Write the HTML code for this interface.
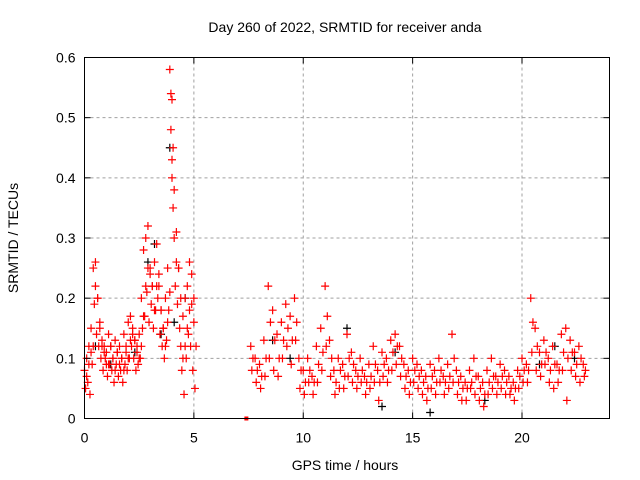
<!DOCTYPE html>
<html><head><meta charset="utf-8"><style>
body{margin:0;background:#fff;}
svg{display:block;font-family:"Liberation Sans",sans-serif;}
</style></head><body>
<svg id="chart" width="640" height="480" viewBox="0 0 640 480">
<rect width="640" height="480" fill="#fff"/>
<g id="grid"></g>
<g id="marks"></g>
<rect x="84.5" y="57.5" width="525" height="361" fill="none" stroke="#000" stroke-width="1"/>
<g id="ticks"></g>
<text x="345" y="32" text-anchor="middle" font-size="14">Day 260 of 2022, SRMTID for receiver anda</text>
<text x="345" y="470" text-anchor="middle" font-size="14">GPS time / hours</text>
<text x="18" y="238" text-anchor="middle" font-size="14" transform="rotate(-90 18 238)">SRMTID / TECUs</text>
</svg>
<script>
const xTicks=[0,5,10,15,20];
const yTicks=[0,0.1,0.2,0.3,0.4,0.5,0.6];
const yTickLabels=["0","0.1","0.2","0.3","0.4","0.5","0.6"];
const times=[0,0.1,0.2,0.3,0.4,0.5,0.6,0.7,0.8,0.9,1.0,1.1,1.2,1.3,1.4,1.5,1.6,1.7,1.8,1.9,2.0,2.1,2.2,2.3,2.4,2.5,2.6,2.7,2.8,2.9,3.0,3.1,3.2,3.3,3.4,3.5,3.6,3.7,3.8,3.9,3.95,4.0,4.1,4.2,4.3,4.4,4.5,4.6,4.7,4.8,4.9,5.0,
7.6,7.8,8.0,8.2,8.4,8.6,8.8,9.0,9.2,9.4,9.6,9.8,10.0,10.2,10.4,10.6,10.8,11.0,11.2,11.4,11.6,11.8,12.0,12.2,12.4,12.6,12.8,13.0,13.2,13.4,13.6,13.8,14.0,14.2,14.4,14.6,14.8,15.0,15.2,15.4,15.6,15.8,16.0,16.2,16.4,16.6,16.8,17.0,17.2,17.4,17.6,17.8,18.0,18.2,18.4,18.6,18.8,19.0,19.2,19.4,19.6,19.8,20.0,20.2,20.4,20.6,20.8,21.0,21.2,21.4,21.6,21.8,22.0,22.2,22.4,22.6,22.8];
const seriesHigh=[0.08,0.10,0.12,0.15,0.25,0.26,0.20,0.15,0.13,0.12,0.11,0.14,0.12,0.10,0.13,0.11,0.12,0.10,0.14,0.12,0.16,0.17,0.15,0.13,0.12,0.14,0.20,0.28,0.30,0.32,0.25,0.22,0.26,0.29,0.22,0.18,0.15,0.20,0.25,0.58,0.54,0.40,0.30,0.31,0.25,0.12,0.17,0.20,0.22,0.26,0.24,0.20,
0.12,0.10,0.09,0.13,0.22,0.18,0.14,0.16,0.19,0.17,0.20,0.10,0.08,0.10,0.07,0.12,0.15,0.22,0.13,0.08,0.10,0.09,0.14,0.11,0.08,0.10,0.07,0.09,0.12,0.08,0.11,0.10,0.13,0.14,0.12,0.09,0.08,0.10,0.09,0.08,0.07,0.09,0.08,0.10,0.07,0.09,0.14,0.08,0.07,0.06,0.08,0.10,0.07,0.06,0.08,0.10,0.07,0.09,0.08,0.07,0.06,0.08,0.10,0.09,0.20,0.15,0.11,0.13,0.10,0.12,0.09,0.14,0.15,0.13,0.11,0.12,0.09];
const seriesMid=[0.07,0.09,0.11,0.12,0.22,0.20,0.16,0.12,0.11,0.09,0.09,0.12,0.10,0.08,0.11,0.09,0.10,0.08,0.11,0.10,0.13,0.14,0.13,0.11,0.10,0.12,0.17,0.22,0.25,0.24,0.22,0.18,0.22,0.24,0.18,0.15,0.12,0.16,0.21,0.53,0.45,0.38,0.26,0.25,0.20,0.10,0.12,0.15,0.18,0.19,0.16,0.12,
0.10,0.08,0.07,0.10,0.16,0.13,0.10,0.13,0.15,0.13,0.16,0.08,0.06,0.08,0.06,0.09,0.11,0.17,0.10,0.06,0.08,0.07,0.10,0.09,0.07,0.08,0.06,0.07,0.09,0.06,0.09,0.08,0.11,0.12,0.10,0.07,0.06,0.08,0.07,0.06,0.05,0.07,0.06,0.08,0.06,0.07,0.10,0.06,0.05,0.05,0.06,0.07,0.05,0.04,0.06,0.07,0.06,0.07,0.06,0.05,0.05,0.07,0.08,0.08,0.16,0.12,0.09,0.11,0.08,0.09,0.08,0.11,0.10,0.11,0.09,0.10,0.08];
const seriesLow=[0.05,0.06,0.04,0.09,0.19,0.14,0.12,0.10,0.08,0.10,0.07,0.09,0.08,0.06,0.09,0.07,0.08,0.06,0.09,0.08,0.10,0.12,0.10,0.08,0.09,0.10,0.15,0.17,0.21,0.16,0.19,0.15,0.18,0.20,0.14,0.12,0.10,0.13,0.18,0.48,0.43,0.35,0.22,0.19,0.15,0.08,0.04,0.10,0.14,0.12,0.08,0.05,
0.08,0.06,0.05,0.07,0.10,0.08,0.07,0.10,0.12,0.09,0.13,0.05,0.04,0.06,0.04,0.06,0.08,0.12,0.07,0.04,0.05,0.05,0.07,0.06,0.05,0.06,0.04,0.05,0.06,0.03,0.07,0.06,0.08,0.09,0.07,0.05,0.04,0.06,0.05,0.04,0.03,0.05,0.04,0.06,0.04,0.05,0.06,0.04,0.03,0.03,0.05,0.04,0.03,0.02,0.04,0.05,0.04,0.05,0.04,0.04,0.03,0.05,0.06,0.06,0.11,0.08,0.07,0.09,0.06,0.05,0.06,0.08,0.03,0.08,0.07,0.06,0.07];
const zeroTimes=[7.4];
const zeroValues=[0];
const blackTimes=[0.5,1.2,2.3,2.9,3.2,3.5,3.9,4.1,4.6,8.6,9.4,12.0,13.6,14.2,15.8,18.3,20.8,21.5,22.4];
const blackValues=[0.12,0.09,0.11,0.26,0.29,0.14,0.45,0.16,0.20,0.13,0.10,0.15,0.02,0.11,0.01,0.03,0.09,0.12,0.10];
const X0=84.5,X1=609.5,Y0=418.5,Y1=57.5;
const xS=t=>X0+(t/24)*(X1-X0);
const yS=v=>Y0-(v/0.6)*(Y0-Y1);
const NS='http://www.w3.org/2000/svg';
const grid=document.getElementById('grid'),ticks=document.getElementById('ticks'),marks=document.getElementById('marks');
function mk(tag,attrs,parent){const e=document.createElementNS(NS,tag);for(const k in attrs)e.setAttribute(k,attrs[k]);parent.appendChild(e);return e;}
xTicks.forEach(t=>{const x=xS(t);
 if(t>0){const g=mk('line',{x1:x,x2:x,y1:Y0,y2:Y1,stroke:'#a0a0a0','stroke-dasharray':'3,3'},grid);
 
 }
 mk('line',{x1:x,x2:x,y1:Y0,y2:Y0-6,stroke:'#000'},ticks);mk('line',{x1:x,x2:x,y1:Y1,y2:Y1+6,stroke:'#000'},ticks);
 const l=mk('text',{x:x,y:Y0+24,'text-anchor':'middle','font-size':14},ticks);l.textContent=t;
 
 });
yTicks.forEach((v,i)=>{const y=yS(v);
 if(v>0&&v<0.6){const g=mk('line',{x1:X0,x2:X1,y1:y,y2:y,stroke:'#a0a0a0','stroke-dasharray':'3,3'},grid);
 
 }
 mk('line',{x1:X0,x2:X0+6,y1:y,y2:y,stroke:'#000'},ticks);mk('line',{x1:X1,x2:X1-6,y1:y,y2:y,stroke:'#000'},ticks);
 const l=mk('text',{x:X0-9,y:y+5,'text-anchor':'end','font-size':14},ticks);l.textContent=yTickLabels[i];
 
 });
function plus(t,v,color,name){if(v===undefined)return;const x=xS(t),y=yS(v);
 const p=mk('path',{d:`M${x-4},${y}H${x+4}M${x},${y-4}V${y+4}`,stroke:color,'stroke-width':1.2,fill:'none'},marks);
 
 }
blackTimes.forEach((t,i)=>plus(t,blackValues[i],'#000','black-point'));
times.forEach((t,i)=>{plus(t,seriesHigh[i],'#f00','srmtid-point');plus(t+0.05,seriesLow[i],'#f00','srmtid-point');plus(t+0.1,seriesMid[i],'#f00','srmtid-point');});
zeroTimes.forEach((t,i)=>{const x=xS(t),y=yS(zeroValues[i]);
 const r=mk('rect',{x:x-2,y:y-2,width:4,height:4,fill:'#f00'},marks);
 
 });
</script>
</body></html>
